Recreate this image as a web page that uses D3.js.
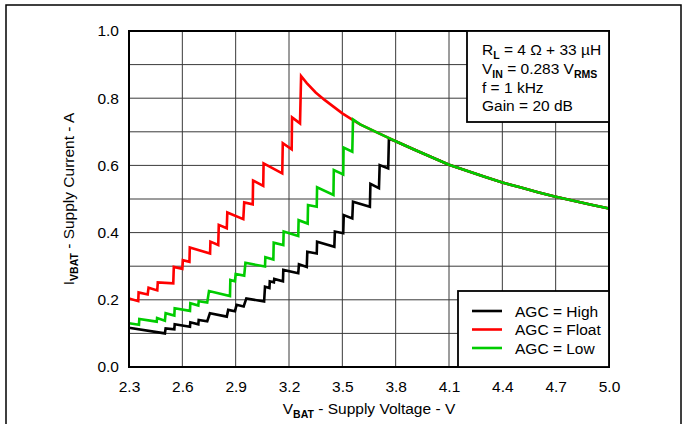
<!DOCTYPE html>
<html><head><meta charset="utf-8">
<script src="https://cdn.jsdelivr.net/npm/d3@7"></script>
<style>
html,body{margin:0;padding:0;background:#fff;}
svg{display:block;font-family:"Liberation Sans",Arial,sans-serif;}
</style></head><body>
<svg id="c" width="683" height="424"></svg>
<script>
// ---------- data ----------
const xTickValues = [2.3, 2.6, 2.9, 3.2, 3.5, 3.8, 4.1, 4.4, 4.7, 5.0];
const yTickValues = [0.0, 0.2, 0.4, 0.6, 0.8, 1.0];
const yGridValues = [0.1, 0.2, 0.3, 0.4, 0.5, 0.6, 0.7, 0.8, 0.9];

// shared high-voltage tail (all AGC settings converge)
const tailV = [3.27, 3.30, 3.35, 3.40, 3.45, 3.50, 3.56, 3.60, 3.70, 3.76, 3.80, 3.90, 4.00, 4.10, 4.20, 4.30, 4.40, 4.50, 4.60, 4.70, 4.80, 4.90, 5.00];
const tailI = [0.866, 0.845, 0.817, 0.795, 0.775, 0.755, 0.735, 0.722, 0.697, 0.682, 0.672, 0.648, 0.625, 0.602, 0.584, 0.566, 0.549, 0.535, 0.520, 0.507, 0.495, 0.483, 0.472];

const highV = [2.300, 2.502, 2.506, 2.555, 2.557, 2.643, 2.645, 2.690, 2.692, 2.740, 2.755, 2.850, 2.858, 2.896, 2.905, 2.945, 2.960, 3.060, 3.065, 3.090, 3.092, 3.115, 3.117, 3.166, 3.168, 3.252, 3.256, 3.300, 3.303, 3.356, 3.358, 3.455, 3.458, 3.505, 3.508, 3.556, 3.560, 3.655, 3.658, 3.706, 3.710, 3.758, 3.762];
const highI = [0.117, 0.100, 0.115, 0.112, 0.127, 0.120, 0.133, 0.127, 0.140, 0.136, 0.160, 0.150, 0.170, 0.166, 0.185, 0.180, 0.204, 0.195, 0.239, 0.235, 0.255, 0.252, 0.262, 0.255, 0.289, 0.279, 0.306, 0.298, 0.343, 0.338, 0.373, 0.358, 0.403, 0.398, 0.452, 0.442, 0.492, 0.477, 0.545, 0.532, 0.601, 0.591, 0.679];

const floatV = [2.300, 2.352, 2.354, 2.405, 2.410, 2.459, 2.462, 2.549, 2.552, 2.600, 2.603, 2.640, 2.642, 2.756, 2.758, 2.802, 2.805, 2.850, 2.853, 2.943, 2.948, 2.996, 2.998, 3.055, 3.057, 3.162, 3.165, 3.215, 3.217, 3.262, 3.268];
const floatI = [0.204, 0.196, 0.222, 0.216, 0.236, 0.228, 0.252, 0.249, 0.298, 0.292, 0.318, 0.313, 0.356, 0.338, 0.373, 0.363, 0.423, 0.413, 0.460, 0.440, 0.490, 0.484, 0.555, 0.539, 0.606, 0.576, 0.666, 0.648, 0.743, 0.725, 0.866];

const lowV = [2.300, 2.356, 2.358, 2.456, 2.458, 2.502, 2.506, 2.555, 2.557, 2.643, 2.645, 2.690, 2.692, 2.740, 2.750, 2.868, 2.870, 2.896, 2.900, 2.948, 2.955, 3.065, 3.067, 3.112, 3.114, 3.168, 3.170, 3.252, 3.254, 3.305, 3.307, 3.356, 3.358, 3.450, 3.452, 3.505, 3.507, 3.556, 3.560];
const lowI = [0.130, 0.126, 0.143, 0.135, 0.146, 0.138, 0.160, 0.153, 0.175, 0.167, 0.190, 0.183, 0.196, 0.192, 0.226, 0.211, 0.259, 0.255, 0.277, 0.272, 0.310, 0.299, 0.327, 0.320, 0.370, 0.363, 0.403, 0.390, 0.437, 0.427, 0.482, 0.477, 0.535, 0.512, 0.586, 0.573, 0.653, 0.641, 0.737];

const seriesNames = ["AGC = High", "AGC = Float", "AGC = Low"];
const seriesColors = ["#000000", "#ff0000", "#00cc00"];

// ---------- build ----------
function withTail(vs, is) {
  const pts = vs.map((v, k) => [v, is[k]]);
  const last = vs[vs.length - 1];
  tailV.forEach((v, k) => { if (v > last + 0.005) pts.push([v, tailI[k]]); });
  return pts;
}
const series = [withTail(highV, highI), withTail(floatV, floatI), withTail(lowV, lowI)];

const svg = d3.select("#c");
const L = 129, R = 609, T = 31, B = 367;
const x = d3.scaleLinear().domain([2.3, 5.0]).range([L, R]);
const y = d3.scaleLinear().domain([0, 1]).range([B, T]);

// outer page frame
svg.append("rect").attr("x", 6).attr("y", 5).attr("width", 675).attr("height", 440)
  .attr("fill", "none").attr("stroke", "#000").attr("stroke-width", 1.5);

// grid
const grid = svg.append("g").attr("stroke", "#3a3a3a").attr("stroke-width", 1);
grid.selectAll("line.v").data(xTickValues.slice(1, -1)).join("line")
  .attr("x1", d => x(d)).attr("x2", d => x(d)).attr("y1", T).attr("y2", B);
grid.selectAll("line.h").data(yGridValues).join("line")
  .attr("x1", L).attr("x2", R).attr("y1", d => y(d)).attr("y2", d => y(d));

// axes labels
const fs = "15.5px";
const xAxis = d3.axisBottom(x).tickValues(xTickValues).tickSize(0).tickPadding(14).tickFormat(d3.format(".1f"));
const gx = svg.append("g").attr("transform", `translate(0,${B})`).call(xAxis);
gx.select(".domain").remove();
gx.selectAll("text").attr("font-size", fs).attr("fill", "#000").attr("font-family", "Liberation Sans, Arial, sans-serif");

const yAxis = d3.axisLeft(y).tickValues(yTickValues).tickSize(0).tickPadding(10).tickFormat(d3.format(".1f"));
const gy = svg.append("g").attr("transform", `translate(${L},0)`).call(yAxis);
gy.select(".domain").remove();
gy.selectAll("text").attr("font-size", fs).attr("fill", "#000").attr("font-family", "Liberation Sans, Arial, sans-serif");

// series lines
const line = d3.line().x(d => x(d[0])).y(d => y(d[1]));
series.forEach((pts, k) => {
  svg.append("path").datum(pts).attr("d", line).attr("fill", "none")
    .attr("stroke", seriesColors[k]).attr("stroke-width", 2.6).attr("stroke-linejoin", "miter").attr("stroke-miterlimit", 3);
});

// plot frame
svg.append("rect").attr("x", L).attr("y", T).attr("width", R - L).attr("height", B - T)
  .attr("fill", "none").attr("stroke", "#000").attr("stroke-width", 2);

// annotation box
svg.append("rect").attr("x", 467).attr("y", T).attr("width", R - 467).attr("height", 91)
  .attr("fill", "#fff").attr("stroke", "#000").attr("stroke-width", 1.8);
const ann = svg.append("g").attr("font-size", fs).attr("fill", "#000");
function sub(t, parts, baseX, baseY) {
  const txt = t.append("text").attr("x", baseX).attr("y", baseY);
  parts.forEach(p => {
    const ts = txt.append("tspan").text(p.t);
    if (p.s) ts.attr("font-size", "10.5px").attr("font-weight", "bold").attr("dy", 4);
    if (p.r) ts.attr("dy", -4);
  });
  return txt;
}
sub(ann, [{t: "R"}, {t: "L", s: 1}, {t: " = 4 \u03A9 + 33 \u00B5H", r: 1}], 482, 55);
sub(ann, [{t: "V"}, {t: "IN", s: 1}, {t: " = 0.283 V", r: 1}, {t: "RMS", s: 1}], 482, 74);
sub(ann, [{t: "f = 1 kHz"}], 482, 92.5);
sub(ann, [{t: "Gain = 20 dB"}], 482, 111);

// legend
svg.append("rect").attr("x", 458).attr("y", 291).attr("width", R - 458).attr("height", B - 291)
  .attr("fill", "#fff").attr("stroke", "#000").attr("stroke-width", 1.8);
const legY = [311, 329.5, 348];
seriesNames.forEach((n, k) => {
  svg.append("line").attr("x1", 472).attr("x2", 502).attr("y1", legY[k]).attr("y2", legY[k])
    .attr("stroke", seriesColors[k]).attr("stroke-width", 2.6);
  svg.append("text").attr("x", 515).attr("y", legY[k]).attr("dy", "0.36em")
    .attr("font-size", fs).text(n);
});

// axis titles
const xt = svg.append("text").attr("x", (L + R) / 2).attr("y", 414).attr("text-anchor", "middle").attr("font-size", fs);
xt.append("tspan").text("V");
xt.append("tspan").text("BAT").attr("font-size", "10.5px").attr("font-weight", "bold").attr("dy", 4);
xt.append("tspan").text(" - Supply Voltage - V").attr("dy", -4);

const yt = svg.append("text").attr("transform", `translate(74,${(T + B) / 2}) rotate(-90)`)
  .attr("text-anchor", "middle").attr("font-size", fs);
yt.append("tspan").text("I");
yt.append("tspan").text("VBAT").attr("font-size", "10.5px").attr("font-weight", "bold").attr("dy", 4);
yt.append("tspan").text(" - Supply Current - A").attr("dy", -4);
</script>
</body></html>
